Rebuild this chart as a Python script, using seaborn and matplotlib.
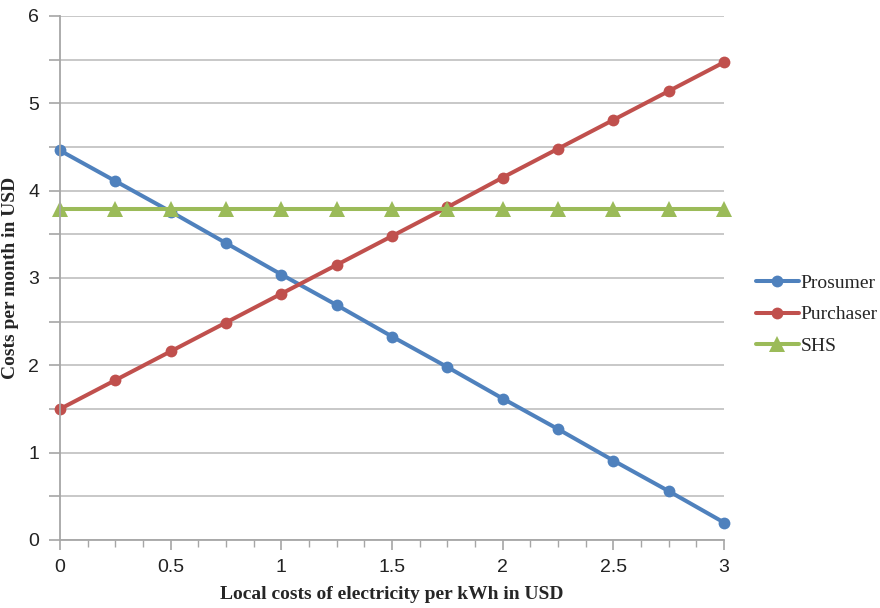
import numpy as np
import pandas as pd
import matplotlib
matplotlib.use("Agg")
import matplotlib.pyplot as plt
import seaborn as sns
from matplotlib.ticker import MultipleLocator, FuncFormatter

x_vals = [0, 0.25, 0.5, 0.75, 1.0, 1.25, 1.5, 1.75, 2.0, 2.25, 2.5, 2.75, 3.0]
prosumer = [4.46, 4.11, 3.76, 3.40, 3.04, 2.69, 2.33, 1.98, 1.62, 1.27, 0.91, 0.56, 0.20]
purchaser = [1.50, 1.83, 2.16, 2.49, 2.82, 3.15, 3.48, 3.81, 4.15, 4.48, 4.81, 5.14, 5.47]
shs = [3.79] * 13
series_names = ["Prosumer", "Purchaser", "SHS"]
colors = ["#4F81BD", "#C0504D", "#9BBB59"]
markers = ["o", "o", "^"]

df = pd.DataFrame({"x": x_vals * 3,
                   "y": prosumer + purchaser + shs,
                   "series": sum([[n] * len(x_vals) for n in series_names], [])})

sns.set_theme(style="white")
plt.rcParams["font.family"] = ["Liberation Sans", "DejaVu Sans"]

fig = plt.figure(figsize=(8.8, 6.08), dpi=100)
ax = fig.add_axes([60 / 880, 1 - 540 / 608, 664 / 880, 524 / 608])

sns.lineplot(data=df, x="x", y="y", hue="series", style="series",
             palette=colors, markers=markers, dashes=False,
             linewidth=2.9, markersize=8.5, markeredgewidth=0, ax=ax)
for ln in ax.lines:
    ln.set_clip_on(False)
    if ln.get_marker() == "^":
        ln.set_markersize(11)

ax.set_xlim(0, 3)
ax.set_ylim(0, 6)
ax.xaxis.set_major_locator(MultipleLocator(0.5))
ax.xaxis.set_minor_locator(MultipleLocator(0.125))
ax.yaxis.set_major_locator(MultipleLocator(1))
ax.yaxis.set_minor_locator(MultipleLocator(0.5))
ax.xaxis.set_major_formatter(FuncFormatter(lambda v, p: f"{v:g}"))
ax.yaxis.set_major_formatter(FuncFormatter(lambda v, p: f"{v:g}"))
ax.grid(axis="y", which="both", color="#BFBFBF", linewidth=1.2)
ax.grid(axis="x", visible=False)
ax.set_axisbelow(True)

for s in ["top", "right"]:
    ax.spines[s].set_visible(False)
for s in ["left", "bottom"]:
    ax.spines[s].set_color("#A6A6A6")
    ax.spines[s].set_linewidth(1.3)

ax.tick_params(axis="both", which="both", direction="out", color="#A6A6A6",
               labelsize=14, labelcolor="#222222")
ax.tick_params(axis="y", which="both", length=8, width=1.2, left=True, pad=7)
ax.tick_params(axis="x", which="major", length=7, width=1.2, bottom=True, pad=7)
ax.tick_params(axis="x", which="minor", length=5, width=1.0, bottom=True)

serif = ["Liberation Serif", "DejaVu Serif"]
ax.set_xlabel("Local costs of electricity per kWh in USD", fontsize=14,
              fontweight="bold", family=serif)
ax.set_ylabel("Costs per month in USD", fontsize=14,
              fontweight="bold", family=serif)
ax.xaxis.set_label_coords(0.5, -0.087)
ax.yaxis.set_label_coords(-0.062, 0.5)

leg = ax.legend(loc="center left", bbox_to_anchor=(1.022, 0.43), frameon=False,
                prop={"family": serif, "size": 14},
                handlelength=2.2, handletextpad=0.1, labelspacing=0.72)
for h in leg.legend_handles:
    if h.get_marker() == "^":
        h.set_markersize(11)

fig.savefig("out.png", dpi=100)
